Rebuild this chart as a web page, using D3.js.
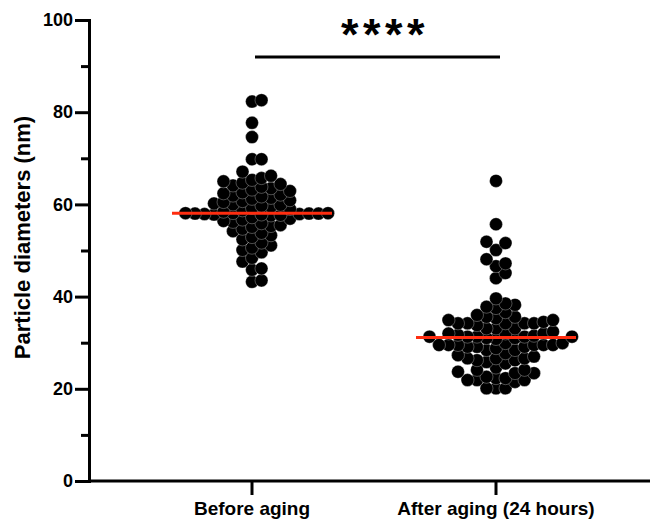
<!DOCTYPE html>
<html>
<head>
<meta charset="utf-8">
<title>Particle diameters - D3.js</title>
<script src="https://d3js.org/d3.v7.min.js"></script>
<style>
    body { margin: 0; background: #fff; }
    svg text {
        font-family: "Liberation Sans", Arial, Helvetica, sans-serif;
        font-weight: bold;
        fill: #000;
    }
    .axis path, .axis line {
        stroke: #000;
        stroke-width: 3;
    }
    .dot {
        fill: #000;
        stroke: #fff;
        stroke-width: 0.5;
        stroke-opacity: 0.6;
    }
    .median {
        stroke: #ff2d10;
        stroke-width: 3;
    }
</style>
</head>
<body>
<div id="chart"></div>
<script>
    // groups on the x axis
    const groups = ["Before aging", "After aging (24 hours)"];

    // particle diameters (nm)
    const beforeAging = [
        82.3, 82.6, 77.7, 74.6, 69.8, 69.8, 67.1, 66.2,
        65.7, 65.3, 65.0,
        64.7, 64.4, 64.1, 63.8, 63.5,
        63.2, 62.9, 62.6, 62.4, 62.1, 61.9, 61.7,
        61.4, 61.2, 60.9, 60.7, 60.5, 60.2, 60.0, 59.9,
        59.7, 59.5, 59.2, 59.0,
        58.7, 57.6, 58.1, 57.7, 58.4, 57.8, 58.0,
        57.9, 58.1, 57.9, 58.0, 58.1, 58.0, 57.8,
        57.2, 56.9, 56.7, 56.4, 56.2, 55.9,
        55.5, 55.3, 55.1, 54.7, 54.2, 53.8,
        53.3, 52.9, 52.4, 51.7, 51.1, 50.6, 50.1,
        49.6, 48.4, 47.6,
        46.1, 45.8,
        43.5, 43.2
    ];
    const afterAging = [
        65.1, 55.7, 51.9, 51.6, 50.1, 48.1, 47.2, 46.6, 45.1, 44.0,
        39.6, 38.5, 37.8, 38.2,
        36.0, 35.6, 37.5, 36.6, 35.6, 35.3, 34.9,
        33.1, 34.2, 33.8, 34.2, 33.1, 34.2, 34.9, 34.2, 34.5, 34.2,
        32.4, 33.1,
        31.3, 31.0, 31.7, 31.3, 31.5, 32.0, 31.3, 32.0, 31.3, 32.0, 31.3, 30.8, 31.0,
        29.9, 28.8, 29.5, 29.5, 29.9, 29.1, 29.5, 29.5, 28.4, 29.5, 29.5, 28.4, 29.1,
        29.1,
        26.6, 26.6, 26.2, 26.2, 27.7, 25.5, 26.6, 27.0, 27.3, 25.8,
        24.1, 24.1, 23.4, 23.4, 23.7, 24.6,
        22.3, 22.3, 21.9, 21.9, 21.5, 21.9, 22.6,
        20.1, 20.1, 20.1
    ];
    const seriesValues = [beforeAging, afterAging];

    // y axis ticks
    const yTicks = [0, 20, 40, 60, 80, 100];
    const yMinorTicks = [10, 30, 50, 70, 90];

    // significance bar
    const sigLabel = "****";
    const sigLevel = 92;

    const width = 650, height = 520;

    const svg = d3.select("#chart")
        .append("svg")
        .attr("width", width)
        .attr("height", height);

    const y = d3.scaleLinear().domain([0, 100]).range([481, 20]);
    const x = d3.scaleBand().domain(groups).range([130, 618]);
    const cx = g => x(g) + x.bandwidth() / 2;
    const axisX = 89;

    // y axis: major and minor ticks
    const yAxis = svg.append("g")
        .attr("class", "axis")
        .attr("transform", `translate(${axisX},0)`);
    yAxis.call(d3.axisLeft(y).tickValues(yTicks).tickSize(14).tickPadding(2).tickSizeOuter(0));
    yAxis.selectAll("text").attr("font-size", 18);
    yAxis.select(".domain").attr("stroke-linecap", "square");
    svg.append("g")
        .attr("class", "axis")
        .attr("transform", `translate(${axisX},0)`)
        .call(d3.axisLeft(y).tickValues(yMinorTicks).tickSize(8).tickFormat(""))
        .select(".domain").remove();

    // x axis: line runs to the right edge
    const xAxis = svg.append("g")
        .attr("class", "axis")
        .attr("transform", `translate(0,${y(0)})`);
    xAxis.call(d3.axisBottom(x).tickSize(14).tickPadding(7).tickSizeOuter(0));
    xAxis.select(".domain").remove();
    xAxis.append("line")
        .attr("x1", axisX).attr("x2", width)
        .attr("stroke", "#000").attr("stroke-width", 3);
    xAxis.selectAll("text").attr("font-size", 19);

    // y axis title
    svg.append("text")
        .attr("transform", `translate(30,${(y(0) + y(100)) / 2 - 13}) rotate(-90)`)
        .attr("text-anchor", "middle")
        .attr("font-size", 22)
        .text("Particle diameters (nm)");

    // column scatter like Prism: points go in fixed columns,
    // a column only takes a point if it is far enough from the others in it
    const colStep = 9.5;
    const gapPx = 8.3;
    const dotR = 6.5;

    function columnSwarm(values, c) {
        const cols = new Map();
        const order = d3.range(values.length).sort((a, b) => values[a] - values[b]);
        const out = [];
        order.forEach(i => {
            const py = y(values[i]);
            for (let k = 0; ; k++) {
                const col = k === 0 ? 0 : (k % 2 ? (k + 1) / 2 : -k / 2);
                const ys = cols.get(col) || [];
                if (ys.every(q => Math.abs(q - py) >= gapPx)) {
                    ys.push(py);
                    cols.set(col, ys);
                    out.push({ v: values[i], x: c + col * colStep, y: py });
                    break;
                }
            }
        });
        return out;
    }

    groups.forEach((g, gi) => {
        const c = cx(g);
        const nodes = columnSwarm(seriesValues[gi], c);

        svg.append("g").selectAll(".dot")
            .data(nodes)
            .enter()
            .append("circle")
            .attr("class", "dot")
            .attr("cx", d => d.x)
            .attr("cy", d => d.y)
            .attr("r", dotR);

        const med = d3.median(seriesValues[gi]);
        svg.append("line")
            .attr("class", "median")
            .attr("x1", c - 80).attr("x2", c + 80)
            .attr("y1", y(med)).attr("y2", y(med));
    });

    // significance bar and stars
    const x0 = cx(groups[0]), x1 = cx(groups[1]);
    svg.append("line")
        .attr("x1", x0 + 3).attr("x2", x1 + 4)
        .attr("y1", y(sigLevel)).attr("y2", y(sigLevel))
        .attr("stroke", "#000").attr("stroke-width", 3);
    svg.append("text")
        .attr("x", (x0 + x1) / 2 + 11)
        .attr("y", 50)
        .attr("text-anchor", "middle")
        .attr("font-size", 45)
        .attr("letter-spacing", 4.5)
        .text(sigLabel);
</script>
</body>
</html>
